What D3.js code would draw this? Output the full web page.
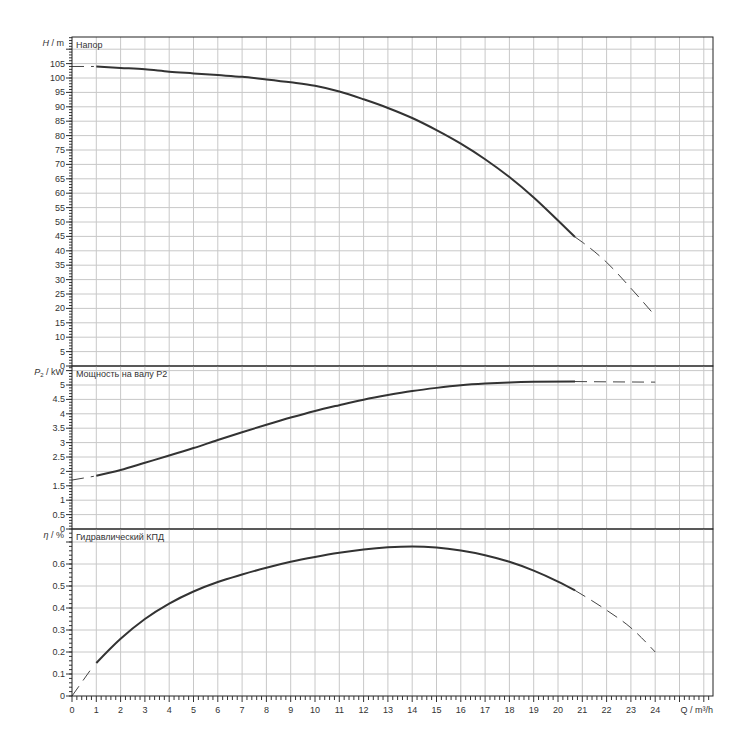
<!DOCTYPE html><html><head><meta charset="utf-8"><script src="https://d3js.org/d3.v7.min.js"></script>
<style>body{margin:0;background:#fff}text{font-family:"Liberation Sans",Arial,sans-serif;font-size:9px;fill:#333}</style></head><body><svg id="c" width="750" height="750"></svg><script>
const qTicks=d3.range(0,25,1);
const headSolid=[[1,104],[2,103.5],[3,103],[4,102.2],[5,101.6],[6,101],[7,100.4],[8,99.5],[9,98.5],[10,97.3],[11,95.3],[12,92.6],[13,89.6],[14,86.1],[15,81.9],[16,77.2],[17,71.8],[18,65.6],[19,58.5],[20,50.5],[20.7,44.8]];
const headDash1=[[0,104],[0.9,104]];
const headDash2=[[20.7,44.8],[21,43],[22,36],[23,27],[24,17.4]];
const powSolid=[[1,1.85],[2,2.05],[3,2.3],[4,2.55],[5,2.81],[6,3.09],[7,3.36],[8,3.62],[9,3.87],[10,4.1],[11,4.3],[12,4.49],[13,4.65],[14,4.79],[15,4.9],[16,4.99],[17,5.05],[18,5.09],[19,5.11],[20.7,5.12]];
const powDash1=[[0,1.7],[0.9,1.83]];
const powDash2=[[20.7,5.12],[22,5.11],[24,5.1]];
const effSolid=[[1,0.15],[2,0.26],[3,0.35],[4,0.42],[5,0.475],[6,0.518],[7,0.552],[8,0.583],[9,0.61],[10,0.632],[11,0.651],[12,0.666],[13,0.676],[14,0.68],[15,0.675],[16,0.661],[17,0.64],[18,0.61],[19,0.57],[20,0.52],[20.7,0.48]];
const effDash1=[[0,0],[0.9,0.14]];
const effDash2=[[20.7,0.48],[22,0.39],[23,0.31],[24,0.2]];
const svg=d3.select("#c");
const L=72,R=713;
const x=d3.scaleLinear().domain([0,(R-L)/24.3]).range([L,R]);
const panels=[
 {top:37,bot:366,max:(366-37)/2.88,step:5,minor:1,lab:"H",unit:" / m",title:"Напор",fmt:d3.format("d"),series:[headSolid,headDash1,headDash2]},
 {top:366,bot:529,max:(529-366)/28.8,step:0.5,minor:0.1,lab:"P",sub:"2",unit:" / kW",title:"Мощность на валу P2",fmt:v=>d3.format("~g")(v),series:[powSolid,powDash1,powDash2]},
 {top:529,bot:696,max:(696-529)/220,step:0.1,minor:0.02,lab:"η",unit:" / %",title:"Гидравлический КПД",fmt:v=>d3.format("~g")(+v.toFixed(1)),series:[effSolid,effDash1,effDash2]}];
const gx=d3.range(1,28);
panels.forEach(p=>{
 const y=d3.scaleLinear().domain([0,p.max]).range([p.bot,p.top]);
 const major=d3.range(0,p.max+1e-9,p.step);
 svg.append("g").selectAll("line").data(gx.filter(v=>x(v)<R-1)).join("line").attr("x1",d=>x(d)).attr("x2",d=>x(d)).attr("y1",p.top).attr("y2",p.bot).attr("stroke","#c8c8c8");
 svg.append("g").selectAll("line").data(major.slice(1)).join("line").attr("x1",L).attr("x2",R).attr("y1",d=>y(d)).attr("y2",d=>y(d)).attr("stroke","#c8c8c8");
 const minor=d3.range(0,p.max+1e-9,p.minor);
 svg.append("g").selectAll("line").data(minor).join("line").attr("x1",L-3).attr("x2",L).attr("y1",d=>y(d)).attr("y2",d=>y(d)).attr("stroke","#333");
 svg.append("g").selectAll("line").data(major).join("line").attr("x1",L-6).attr("x2",L).attr("y1",d=>y(d)).attr("y2",d=>y(d)).attr("stroke","#333");
 svg.append("g").selectAll("text").data(major.filter(d=>y(d)>p.top+15)).join("text").attr("x",L-7).attr("y",d=>y(d)+3).attr("text-anchor","end").text(d=>p.fmt(d));
 const t=svg.append("text").attr("x",L-8).attr("y",p.top+9).attr("text-anchor","end");
 t.append("tspan").attr("font-style","italic").text(p.lab);
 if(p.sub)t.append("tspan").attr("font-size","6px").attr("dy",2).text(p.sub);
 t.append("tspan").attr("dy",p.sub?-2:0).text(p.unit);
 svg.append("text").attr("x",L+4).attr("y",p.top+11).text(p.title);
 const line=d3.line().x(d=>x(d[0])).y(d=>y(d[1])).curve(d3.curveMonotoneX);
 svg.append("path").attr("d",line(p.series[0])).attr("fill","none").attr("stroke","#333").attr("stroke-width",2);
 [p.series[1],p.series[2]].forEach(s=>svg.append("path").attr("d",line(s)).attr("fill","none").attr("stroke","#444").attr("stroke-width",1).attr("stroke-dasharray","12,7"));
 svg.append("rect").attr("x",L).attr("y",p.top).attr("width",R-L).attr("height",p.bot-p.top).attr("fill","none").attr("stroke","#222");
});
svg.append("g").selectAll("line").data(d3.range(0,(R-L)/24.3,0.2)).join("line").attr("x1",d=>x(d)).attr("x2",d=>x(d)).attr("y1",696).attr("y2",d=>Math.abs(d-Math.round(d))<1e-6?702:700).attr("stroke","#333");
svg.append("g").selectAll("text").data(qTicks).join("text").attr("x",d=>x(d)).attr("y",713).attr("text-anchor","middle").text(d=>d);
svg.append("text").attr("x",R).attr("y",713).attr("text-anchor","end").text("Q / m³/h");
</script></body></html>
